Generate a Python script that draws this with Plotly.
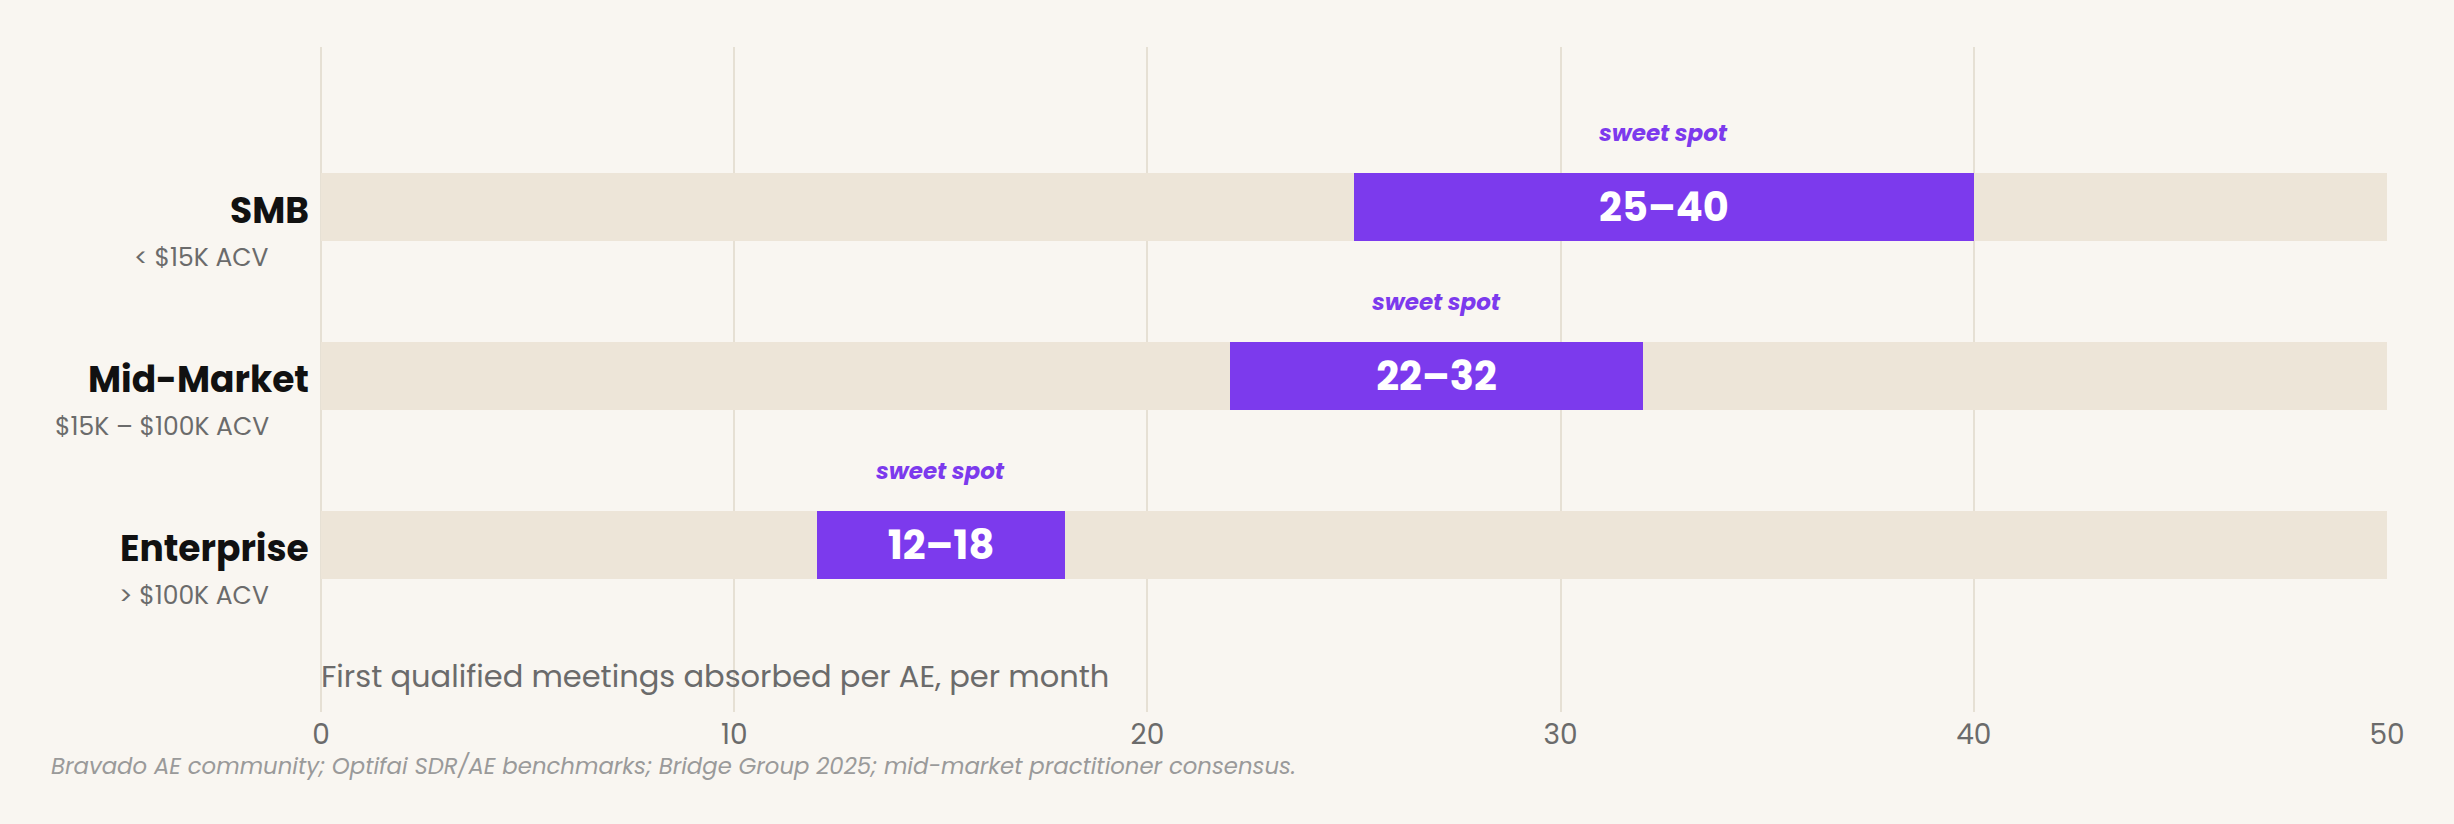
import plotly.graph_objects as go

segments = ["SMB", "Mid-Market", "Enterprise"]
sublabels = ["< $15K ACV", "$15K – $100K ACV", "> $100K ACV"]
low = [25, 22, 12]
high = [40, 32, 18]
scale_max = 50
ypos = [2, 1, 0]
tick_vals = [0, 10, 20, 30, 40, 50]
axis_note = "First qualified meetings absorbed per AE, per month"
source_note = "Bravado AE community; Optifai SDR/AE benchmarks; Bridge Group 2025; mid-market practitioner consensus."
badge = "sweet spot"

BG = "#f9f6f1"
TRACK = "#ede5d8"
PURPLE = "#7c3aed"
GRID = "#e6e0d4"
FONT = "Poppins, Inter, sans-serif"

fig = go.Figure()
fig.add_trace(go.Bar(
    y=ypos, x=[scale_max] * len(ypos), base=[0] * len(ypos), orientation="h",
    width=0.4, marker=dict(color=TRACK, line=dict(width=0)), hoverinfo="skip",
    showlegend=False,
))
fig.add_trace(go.Bar(
    y=ypos, x=[h - l for l, h in zip(low, high)], base=low, orientation="h",
    width=0.4, marker=dict(color=PURPLE, line=dict(width=0)),
    text=[f"{l}–{h}" for l, h in zip(low, high)], textposition="inside",
    insidetextanchor="middle", constraintext="none",
    textfont=dict(color="white", size=40, family=FONT, weight=700),
    showlegend=False,
))

ann = []
for seg, sub, y, l, h in zip(segments, sublabels, ypos, low, high):
    ann.append(dict(x=0, xref="paper", y=y, yref="y", text=seg, showarrow=False,
                    xanchor="right", yanchor="middle", xshift=-10, yshift=-3,
                    font=dict(size=36, color="#111111", family=FONT, weight=700)))
    ann.append(dict(x=0, xref="paper", y=y, yref="y", text=sub, showarrow=False,
                    xanchor="right", yanchor="middle", xshift=-50, yshift=-50,
                    font=dict(size=25, color="#6b6b6b", family=FONT)))
    ann.append(dict(x=(l + h) / 2, xref="x", y=y, yref="y", text=badge, showarrow=False,
                    xanchor="center", yanchor="middle", yshift=74,
                    font=dict(size=23, color=PURPLE, family=FONT, weight=700, style="italic")))

ann.append(dict(x=0, xref="x", y=-0.775, yref="y", text=axis_note, showarrow=False,
                xanchor="left", yanchor="middle", xshift=-2,
                font=dict(size=30.5, color="#6b6b6b", family=FONT)))
ann.append(dict(x=-0.1317, xref="paper", y=-0.077, yref="paper", text=source_note, showarrow=False,
                xanchor="left", yanchor="middle", yshift=-3,
                font=dict(size=22.8, color="#9a9a9a", family=FONT, style="italic")))

fig.update_layout(
    width=2454, height=824,
    paper_bgcolor=BG, plot_bgcolor=BG,
    margin=dict(l=321, r=67, t=47, b=112),
    barmode="overlay", bargap=0,
    annotations=ann,
    font=dict(family=FONT),
    xaxis=dict(range=[0, scale_max], tickvals=tick_vals, showgrid=True, gridcolor=GRID,
               gridwidth=2, zeroline=True, zerolinecolor=GRID, zerolinewidth=2,
               showline=False, ticks="", ticklabelstandoff=3,
               tickfont=dict(size=28, color="#6b6b6b", family=FONT), fixedrange=True),
    yaxis=dict(range=[-0.988, 2.947], showgrid=False, zeroline=False, showticklabels=False,
               showline=False, fixedrange=True),
)

fig.write_html("out.html")
